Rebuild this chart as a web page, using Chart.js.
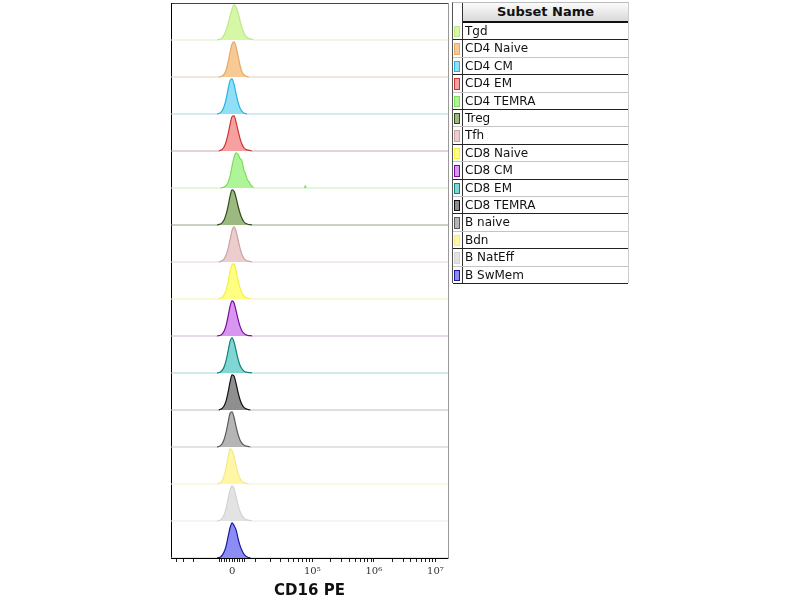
<!DOCTYPE html>
<html lang="en">
<head>
    <meta charset="UTF-8">
    <title>CD16 PE histograms</title>
    <script src="https://cdn.jsdelivr.net/npm/chart.js"></script>
    <style>
        body { margin: 0; background: #fff; }
        #wrap { position: relative; width: 800px; height: 600px; overflow: hidden; }
        #chart { position: absolute; left: 0; top: 0; }
        #legend {
            position: absolute; left: 452px; top: 2px; width: 175px; height: 280px;
            border-left: 1px solid #555; border-right: 1px solid #ccc; border-top: 1px solid #bbb;
            font-family: "DejaVu Sans", Verdana, sans-serif; color: #111;
        }
        #legend .divider { position: absolute; left: 9px; top: 0; width: 1px; height: 100%; background: #333; }
        #legend .head {
            position: absolute; left: 10px; right: 0; top: 0; height: 18px;
            background: linear-gradient(#fbfbfb, #d9d9d9); border-bottom: 2px solid #111;
            font-weight: bold; font-size: 13px; line-height: 18px; text-align: center;
        }
        #legend .row { position: absolute; left: 0; right: 0; box-sizing: border-box; }
        #legend .row span { position: absolute; left: 12px; font-size: 12px; }
        #legend .sw { position: absolute; left: 1px; width: 4px; box-sizing: content-box; }
    </style>
</head>
<body>
<div id="wrap">
    <canvas id="chart" width="460" height="600"></canvas>
    <div id="legend"><div class="head">Subset Name</div></div>
</div>

<script>
// subsets, top row first
const subsetNames = ['Tgd', 'CD4 Naive', 'CD4 CM', 'CD4 EM', 'CD4 TEMRA', 'Treg', 'Tfh',
    'CD8 Naive', 'CD8 CM', 'CD8 EM', 'CD8 TEMRA', 'B naive', 'Bdn', 'B NatEff', 'B SwMem'];

// histogram bin centres, CD16 PE intensity
const binValues = [-6000, -5250, -4500, -3750, -3000, -2250, -1500, -750, 0, 750, 1500, 2250,
    3000, 3750, 4500, 5250, 6000, 6750, 7500, 8250, 9000, 74000, 77000, 80000];

// counts, % of mode, one array per subset
const tgdCounts      = [0, 1, 3, 7, 15, 28, 46, 68, 88, 100, 94, 78, 56, 36, 21, 12, 7, 4, 3, 2, 0, 0, 0, 0];
const cd4NaiveCounts = [0, 0, 1, 3, 8, 20, 42, 70, 94, 100, 86, 60, 34, 16, 7, 3, 1, 0, 0, 0, 0, 0, 0, 0];
const cd4CmCounts    = [0, 1, 4, 10, 22, 42, 70, 95, 100, 84, 58, 34, 17, 8, 3, 1, 0, 0, 0, 0, 0, 0, 0, 0];
const cd4EmCounts    = [0, 0, 2, 5, 12, 26, 48, 76, 98, 100, 82, 58, 36, 20, 10, 5, 3, 2, 1, 0, 0, 0, 0, 0];
const cd4TemraCounts = [0, 0, 0, 1, 3, 7, 16, 34, 62, 88, 100, 96, 84, 78, 52, 40, 24, 18, 9, 5, 0, 0, 6, 0];
const tregCounts     = [0, 1, 3, 7, 15, 30, 54, 82, 100, 96, 78, 54, 34, 19, 10, 5, 3, 1, 1, 0, 0, 0, 0, 0];
const tfhCounts      = [0, 0, 1, 4, 9, 20, 38, 64, 90, 100, 88, 64, 40, 22, 11, 6, 3, 2, 1, 0, 0, 0, 0, 0];
const cd8NaiveCounts = [0, 0, 2, 5, 12, 26, 48, 78, 98, 100, 80, 54, 32, 17, 9, 5, 3, 1, 0, 0, 0, 0, 0, 0];
const cd8CmCounts    = [0, 1, 2, 6, 14, 30, 56, 84, 100, 94, 72, 48, 28, 15, 8, 4, 2, 1, 1, 0, 0, 0, 0, 0];
const cd8EmCounts    = [0, 1, 3, 8, 18, 36, 62, 90, 100, 88, 64, 40, 22, 12, 6, 3, 2, 1, 1, 0, 0, 0, 0, 0];
const cd8TemraCounts = [0, 0, 2, 5, 12, 26, 50, 80, 100, 96, 76, 50, 30, 16, 8, 4, 2, 1, 0, 0, 0, 0, 0, 0];
const bNaiveCounts   = [0, 1, 4, 10, 22, 42, 70, 96, 100, 84, 58, 36, 20, 11, 6, 3, 2, 1, 0, 0, 0, 0, 0, 0];
const bdnCounts      = [0, 1, 4, 10, 24, 46, 76, 100, 96, 78, 52, 30, 16, 8, 4, 2, 1, 0, 0, 0, 0, 0, 0, 0];
const bNatEffCounts  = [0, 1, 3, 8, 18, 36, 62, 88, 100, 92, 70, 46, 28, 16, 9, 5, 3, 2, 1, 0, 0, 0, 0, 0];
const bSwMemCounts   = [0, 1, 3, 8, 18, 34, 60, 86, 100, 92, 80, 56, 36, 22, 12, 6, 3, 1, 0, 0, 0, 0, 0, 0];

const subsetCounts = [tgdCounts, cd4NaiveCounts, cd4CmCounts, cd4EmCounts, cd4TemraCounts, tregCounts,
    tfhCounts, cd8NaiveCounts, cd8CmCounts, cd8EmCounts, cd8TemraCounts, bNaiveCounts, bdnCounts,
    bNatEffCounts, bSwMemCounts];

// axis range and ticks
const axisMin = -48500;
const axisMax = 16000000;
const majorTicks = [0, 100000, 1000000, 10000000];
const majorLabels = ['0', '10\u2075', '10\u2076', '10\u2077'];
const minorTicks = [-40000, -30000, -20000, -5000, -4000, -3000, -2000, -1000, 1000, 2000, 3000, 4000, 5000,
    10000, 20000, 30000, 40000, 50000, 60000, 70000, 80000, 90000,
    200000, 300000, 400000, 500000, 600000, 700000, 800000, 900000,
    2000000, 3000000, 4000000, 5000000, 6000000, 7000000, 8000000, 9000000];

// styles
const fillColors = ['#d6f7a6', '#f7c994', '#8fe0f7', '#f7a0a0', '#aef59a', '#9cb981', '#ebcdcd', '#ffff80',
    '#d996f0', '#7fd6d3', '#8f8f8f', '#b5b5b5', '#fff7a3', '#e3e3e3', '#8c8cf5'];
const lineColors = ['#bde88a', '#e3a96a', '#26b3e0', '#cc3333', '#7fdc5c', '#2e4d1a', '#c9a3a3', '#f2ef4a',
    '#7a0d9e', '#137f7f', '#111111', '#5a5a5a', '#f2e98c', '#d3d3d3', '#1a1a99'];
const baseColors = ['#e2f0cc', '#e3cdb3', '#a8d8e6', '#c9aaaa', '#c8f0b8', '#93a383', '#e6d3d3', '#f5f3b0',
    '#d6b3dc', '#a3d3d3', '#bdbdbd', '#c8c8c8', '#f5f0c8', '#ececec', '#c9c9ec'];

// biexponential-ish display transform
const biexWidth = 10000;
const biex = v => Math.asinh(v / biexWidth) / Math.LN10;
const biexInv = t => Math.sinh(t * Math.LN10) * biexWidth;

class BiexScale extends Chart.LinearScale {
    configure() {
        super.configure();
        this._tStart = biex(this.min);
        this._tRange = biex(this.max) - this._tStart;
    }
    getPixelForValue(value) {
        return this.getPixelForDecimal((biex(value) - this._tStart) / this._tRange);
    }
    getValueForPixel(pixel) {
        return biexInv(this._tStart + this.getDecimalForPixel(pixel) * this._tRange);
    }
}
BiexScale.id = 'biex';
BiexScale.defaults = {};
Chart.register(BiexScale);

const rows = subsetNames.length;
const peakScale = 0.95 / 100;

const datasets = subsetNames.map((name, i) => {
    const base = rows - 1 - i;
    const pts = [{ x: axisMin, y: base }]
        .concat(binValues.map((b, k) => ({ x: b, y: base + subsetCounts[i][k] * peakScale })))
        .concat([{ x: axisMax, y: base }]);
    return {
        label: name,
        data: pts,
        backgroundColor: fillColors[i],
        borderColor: lineColors[i],
        borderWidth: 1.2,
        pointRadius: 0,
        cubicInterpolationMode: 'monotone',
        fill: { value: base },
        segment: {
            borderColor: ctx => (ctx.p0.parsed.y === base && ctx.p1.parsed.y === base) ? baseColors[i] : lineColors[i]
        }
    };
});

const allTicks = minorTicks.concat(majorTicks).sort((a, b) => a - b);

new Chart(document.getElementById('chart'), {
    type: 'line',
    data: { datasets },
    options: {
        responsive: false,
        animation: false,
        layout: { padding: { left: 171, right: 12, top: 3, bottom: 0 } },
        plugins: { legend: { display: false }, tooltip: { enabled: false } },
        scales: {
            x: {
                type: 'biex',
                position: 'bottom',
                min: axisMin,
                max: axisMax,
                bounds: 'data',
                afterBuildTicks: s => { s.ticks = allTicks.map(v => ({ value: v })); },
                afterFit: s => { s.height = 42; },
                ticks: {
                    autoSkip: false,
                    maxRotation: 0,
                    padding: 3,
                    color: '#333',
                    font: { family: 'DejaVu Serif', size: 10 },
                    callback: v => { const k = majorTicks.indexOf(v); return k >= 0 ? majorLabels[k] : ''; }
                },
                grid: { drawOnChartArea: false, drawTicks: true, tickLength: 4, tickColor: '#222', tickWidth: 1 },
                border: { display: true, color: '#000', width: 1 },
                title: {
                    display: true,
                    text: 'CD16 PE',
                    color: '#111',
                    padding: { top: 0, bottom: 0 },
                    font: { family: 'DejaVu Sans', size: 15, weight: 'bold' }
                }
            },
            xTop: {
                type: 'linear',
                axis: 'x',
                position: 'top',
                afterFit: s => { s.height = 0; },
                ticks: { display: false },
                grid: { display: false, drawTicks: false },
                border: { display: true, color: '#444', width: 1 }
            },
            y: {
                type: 'linear',
                min: 0,
                max: rows,
                afterFit: s => { s.width = 0; },
                ticks: { display: false },
                grid: { display: false, drawTicks: false },
                border: { display: true, color: '#000', width: 1 }
            },
            yRight: {
                type: 'linear',
                axis: 'y',
                position: 'right',
                afterFit: s => { s.width = 0; },
                ticks: { display: false },
                grid: { display: false, drawTicks: false },
                border: { display: true, color: '#999', width: 1 }
            }
        }
    }
});

// legend table
const legend = document.getElementById('legend');
const divider = document.createElement('div');
divider.className = 'divider';
legend.appendChild(divider);
const headH = 20, rowH = 17.4;
subsetNames.forEach((name, i) => {
    const row = document.createElement('div');
    row.className = 'row';
    row.style.top = (headH + i * rowH) + 'px';
    row.style.height = rowH + 'px';
    row.style.borderBottom = '1px solid ' + (i % 2 === 0 ? '#222' : '#c4c4c4');
    const sw = document.createElement('div');
    sw.className = 'sw';
    sw.style.top = '3px';
    sw.style.height = (rowH - 8) + 'px';
    sw.style.background = fillColors[i];
    sw.style.border = '1px solid ' + lineColors[i];
    const txt = document.createElement('span');
    txt.textContent = name;
    txt.style.top = '1px';
    row.appendChild(sw);
    row.appendChild(txt);
    legend.appendChild(row);
});
</script>
</body>
</html>
